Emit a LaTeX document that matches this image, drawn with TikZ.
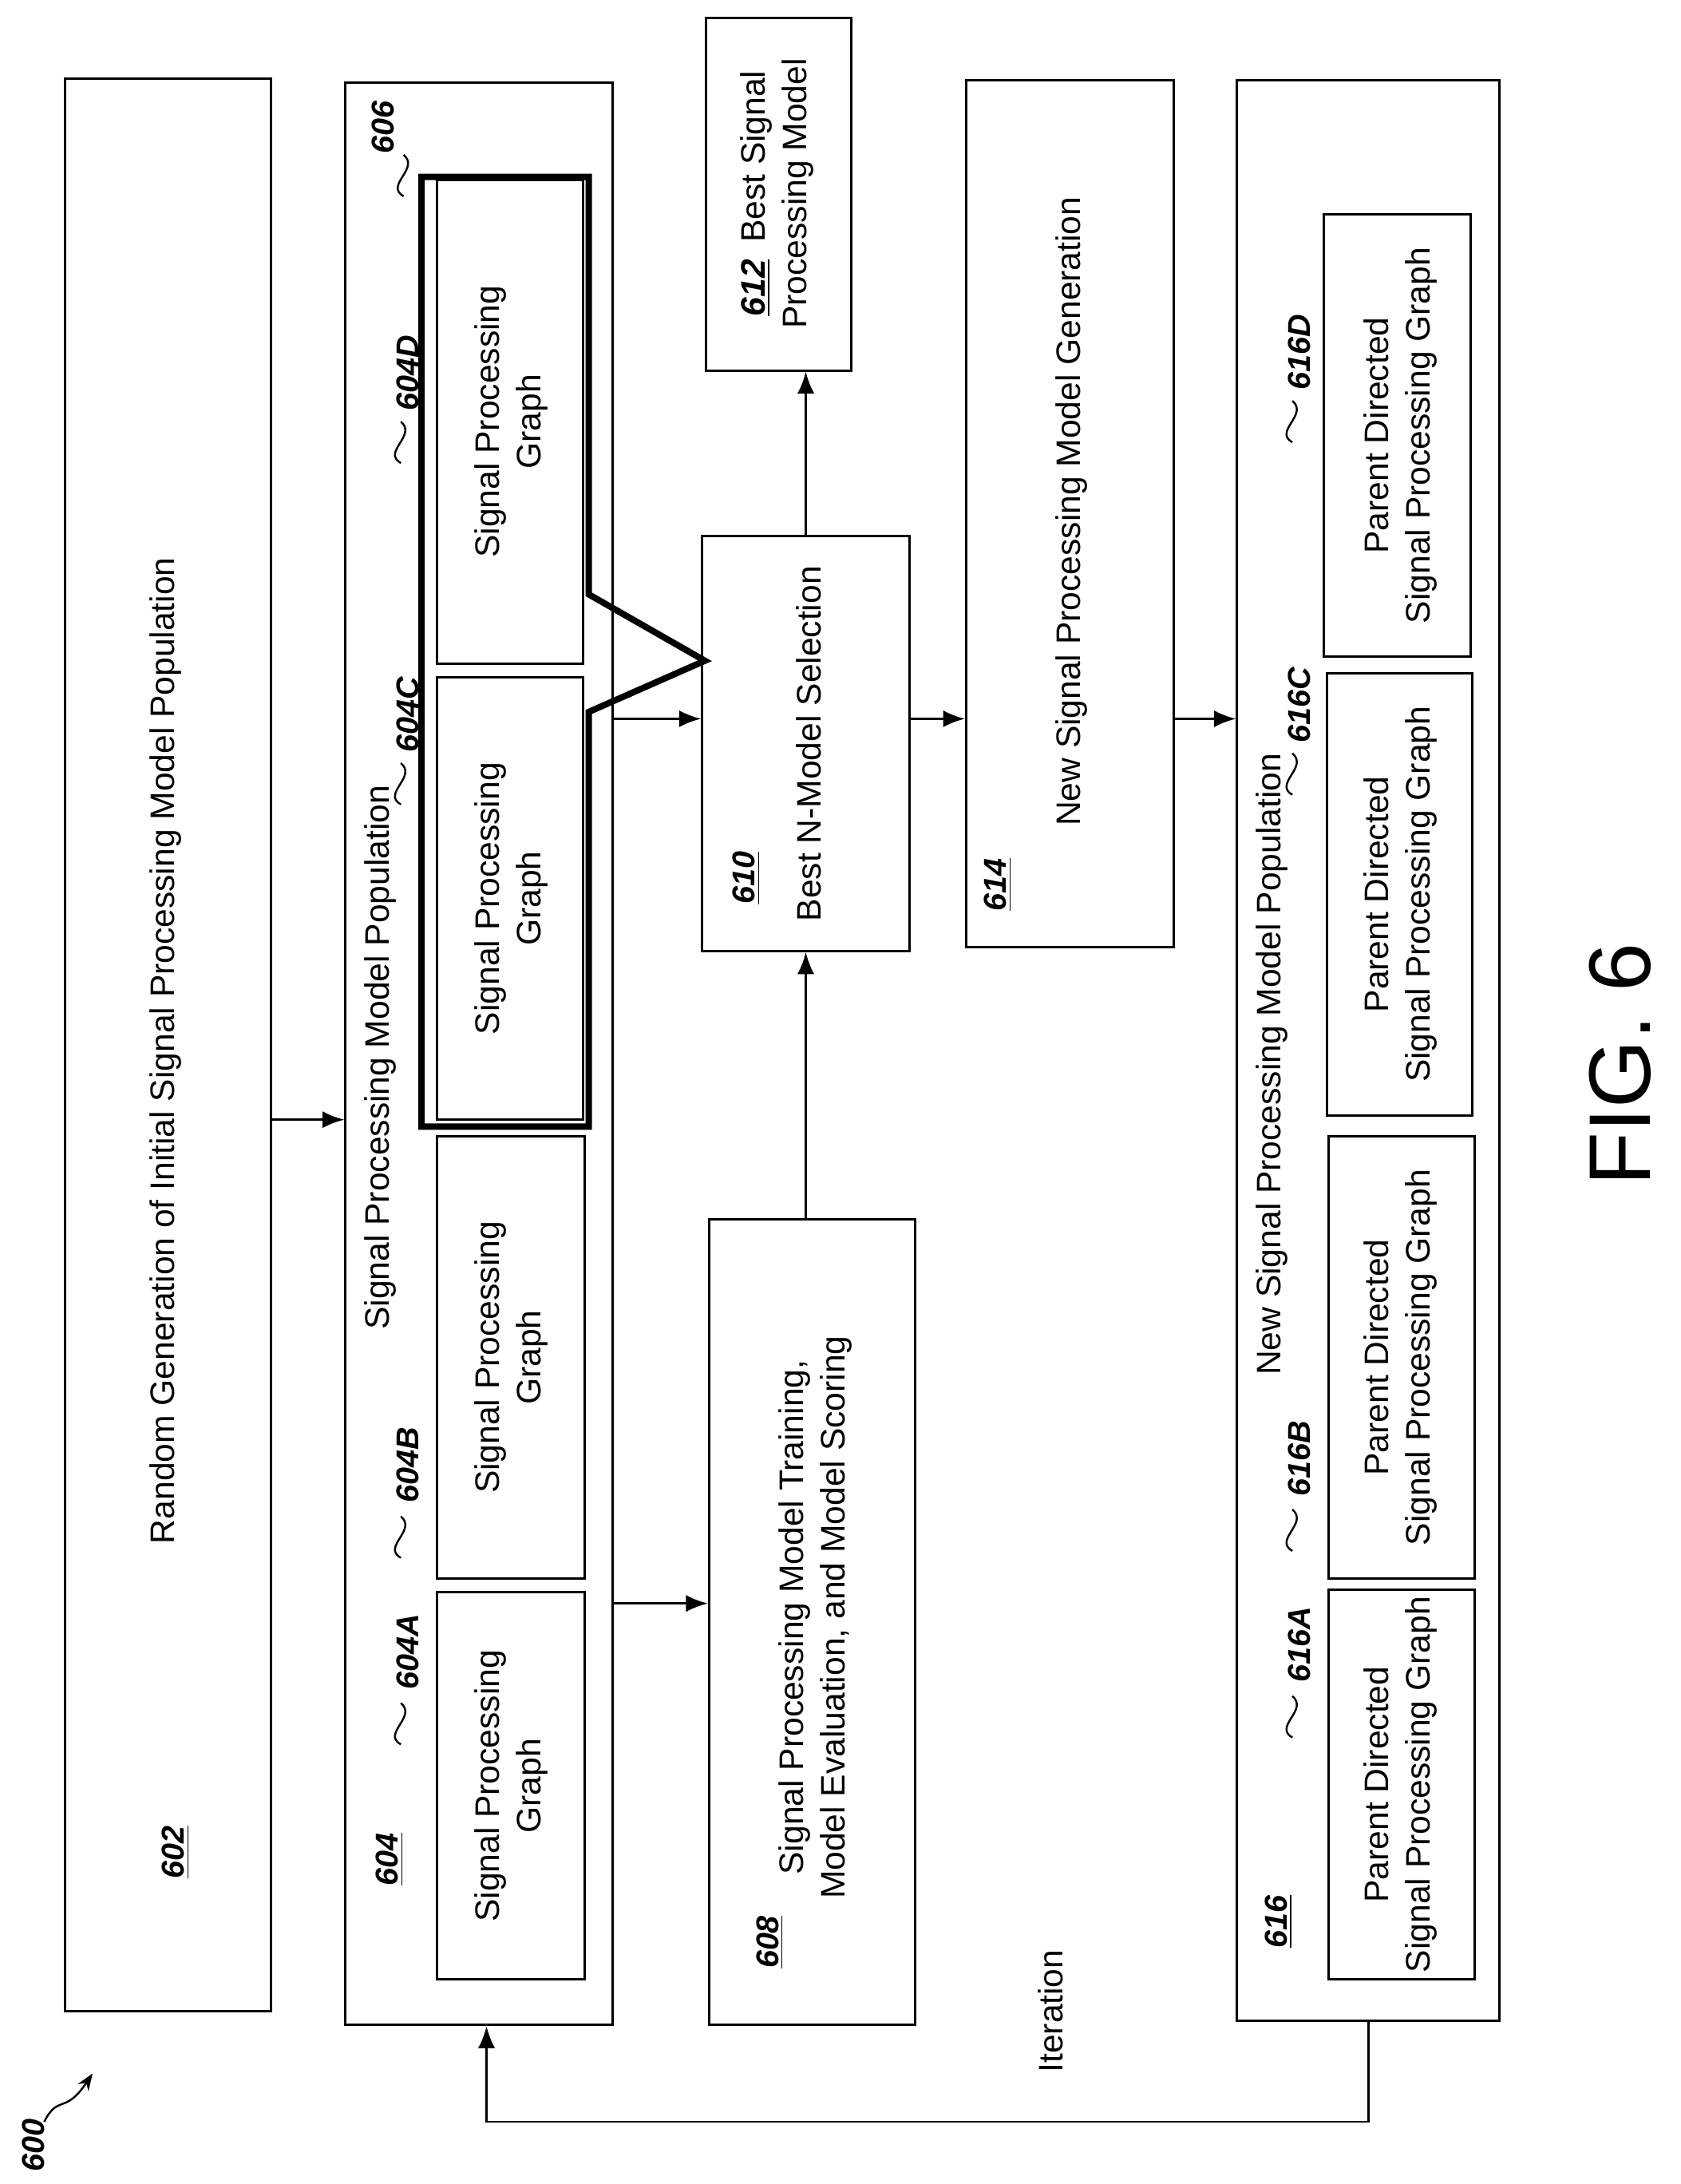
\documentclass[tikz,border=0pt]{standalone}
\usepackage{fontspec}
\setmainfont{Liberation Sans}
\usetikzlibrary{fit,arrows.meta}
\begin{document}
\begin{tikzpicture}[x=0.02cm,y=-0.02cm,
 box/.style={draw,line width=1pt,inner sep=0pt},
 txt/.style={rotate=90,align=center,font=\fontsize{14}{17}\selectfont},
 lab/.style={rotate=90,font=\fontsize{13}{15}\selectfont\bfseries\itshape},
 arr/.style={-{Latex[length=9pt,width=7pt]},line width=0.9pt}]
\useasboundingbox (0,0) rectangle (1216,1580);
\newcommand{\bx}[5]{\node[box,fit={(#2,#3)(#4,#5)}] (#1) {};}
\newcommand{\sq}[2]{\draw[line width=0.8pt] (#1,#2+30) .. controls (#1-14,#2+22) and (#1+12,#2+10) .. (#1,#2);}
% boxes
\bx{602}{47}{57}{196}{1455}
\bx{604}{250}{60}{443}{1465}
\bx{604A}{316}{1152}{423}{1432}
\bx{604B}{316}{822}{423}{1142}
\bx{604C}{316}{490}{422}{810}
\bx{604D}{316}{130}{422}{480}
\bx{608}{513}{882}{662}{1465}
\bx{610}{508}{388}{658}{688}
\bx{612}{511}{13}{616}{268}
\bx{614}{699}{58}{849}{685}
\bx{616}{895}{58}{1085}{1462}
\bx{616A}{961}{1150}{1067}{1432}
\bx{616B}{961}{822}{1067}{1142}
\bx{616C}{960}{487}{1065}{807}
\bx{616D}{958}{155}{1064}{475}
% 606 outline
\draw[line width=2.6pt,line join=miter] (305,128) -- (426,128) -- (426,430) -- (510,478) -- (426,515) -- (426,815) -- (305,815) -- cycle;
% texts
\node[txt] at (120,760) {Random Generation of Initial Signal Processing Model Population};
\node[lab] at (127,1340) {\underline{602}};
\node[txt] at (275,765) {Signal Processing Model Population};
\node[lab] at (282,1345) {\underline{604}};
\foreach \n/\y in {604A/1292,604B/982,604C/650,604D/305}{\node[txt] at (370,\y) {Signal Processing\\Graph};}
\node[lab] at (295,1195) {604A}; \sq{290}{1232}
\node[lab] at (295,1060) {604B}; \sq{290}{1097}
\node[lab] at (295,517) {604C}; \sq{290}{552}
\node[lab] at (295,270) {604D}; \sq{290}{305}
\node[lab] at (277,92) {606}; \sq{292}{112}
\node[txt] at (590,1170) {Signal Processing Model Training,\\Model Evaluation, and Model Scoring};
\node[lab] at (557,1405) {\underline{608}};
\node[lab] at (540,635) {\underline{610}};
\node[txt] at (585,538) {Best N-Model Selection};
\node[txt] at (562,140) {\underline{\textbf{\textit{612}}}\enspace Best Signal\\Processing Model};
\node[lab] at (722,640) {\underline{614}};
\node[txt] at (775,370) {New Signal Processing Model Generation};
\node[lab] at (925,1390) {\underline{616}};
\node[txt] at (920,770) {New Signal Processing Model Population};
\foreach \n/\y in {616A/1291,616B/982,616C/647,616D/315}{\node[txt] at (1013,\y) {Parent Directed\\Signal Processing Graph};}
\node[lab] at (940,1190) {616A}; \sq{935}{1227}
\node[lab] at (940,1055) {616B}; \sq{935}{1092}
\node[lab] at (940,510) {616C}; \sq{935}{545}
\node[lab] at (940,255) {616D}; \sq{935}{290}
\node[txt] at (760,1455) {Iteration};
\node[rotate=90,font=\fontsize{36}{40}\selectfont] at (1172,770) {FIG. 6};
\node[lab] (600) at (24,1552) {600};
\draw[line width=0.8pt,-{Stealth[length=7pt]}] (32,1535) .. controls (42,1515) and (47,1530) .. (67,1500);
% arrows
\foreach \y in {810,520,1160,1535}{\coordinate (y\y) at (0,\y);}
\draw[arr] (602.east |- y810) -- (604.west |- y810);
\draw[arr] (604.east |- y520) -- (610.west |- y520);
\draw[arr] (604.east |- y1160) -- (608.west |- y1160);
\draw[arr] (608.north -| 610.south) -- (610.south);
\draw[arr] (610.north) -- (612.south -| 610.north);
\draw[arr] (610.east |- y520) -- (614.west |- y520);
\draw[arr] (614.east |- y520) -- (616.west |- y520);
\coordinate (a) at (990,0); \coordinate (b) at (352,0);
\draw[arr] (616.south -| a) -- (a |- y1535) -- (b |- y1535) -- (604.south -| b);
\end{tikzpicture}
\end{document}
